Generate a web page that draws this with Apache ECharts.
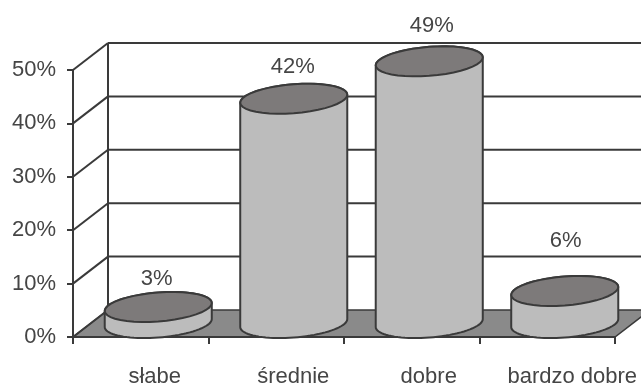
<!DOCTYPE html>
<html>
<head>
<meta charset="utf-8">
<style>html,body{margin:0;padding:0;background:#fff}#c{width:641px;height:385px}</style>
<script src="https://cdn.jsdelivr.net/npm/echarts@6/dist/echarts.min.js"></script>
</head>
<body>
<div id="c"></div>
<script>
// Ocena: odsetek odpowiedzi w każdej kategorii
const categories = ['słabe', 'średnie', 'dobre', 'bardzo dobre'];
const shares = [3, 42, 49, 6];
const axisLevels = [0, 10, 20, 30, 40, 50];

const INK = '#3a3a3a';
const TEXT = '#454545';
const FONT = '"Liberation Sans", Arial, sans-serif';
const FONT_SIZE = 22;
const DEPTH_X = 35, DEPTH_Y = 27;      // how far the back wall sits from the front plane
const TILT = 4, MINOR = 14.5;          // skew and half-height of the cylinder ellipses
const LABEL_LIFT = [29, 33, 36, 51];   // gap between each cylinder top and its caption
const LABEL_SHIFT = [-1.5, -1, 2.5, 1];

// Points of an ellipse arc around (cx, cy), from angle a to angle b
function arc(cx, cy, major, a, b) {
  const pts = [];
  for (let k = 0; k <= 40; k++) {
    const t = a + (b - a) * k / 40;
    pts.push([cx + major * Math.cos(t), cy - TILT * Math.cos(t) + MINOR * Math.sin(t)]);
  }
  return pts;
}

function renderLevel(params, api) {
  const sys = params.coordSys;
  const y = api.coord([0, api.value(1)])[1];
  const left = sys.x, right = sys.x + sys.width;
  const children = [];
  if (api.value(1) === 0) {
    children.push({
      type: 'polygon',
      shape: { points: [[left, y], [right, y], [right + DEPTH_X, y - DEPTH_Y], [left + DEPTH_X, y - DEPTH_Y]] },
      style: { fill: '#8a8a8a', stroke: INK, lineWidth: 1.5 }
    });
  } else {
    children.push({
      type: 'line',
      shape: { x1: left + DEPTH_X, y1: y - DEPTH_Y, x2: right + DEPTH_X, y2: y - DEPTH_Y },
      style: { stroke: INK, lineWidth: 2 }
    });
  }
  children.push({
    type: 'line',
    shape: { x1: left, y1: y, x2: left + DEPTH_X, y2: y - DEPTH_Y },
    style: { stroke: INK, lineWidth: 2 }
  });
  if (params.dataIndex === 0) {
    children.push({
      type: 'line',
      shape: { x1: left + DEPTH_X, y1: sys.y - DEPTH_Y, x2: left + DEPTH_X, y2: y - DEPTH_Y },
      style: { stroke: INK, lineWidth: 2 }
    });
  }
  return { type: 'group', children };
}

function renderCylinder(params, api) {
  const top = api.coord([api.value(0), api.value(1)]);
  const base = api.coord([api.value(0), 0]);
  const major = api.size([1, 0])[0] * 0.395;
  const cx = top[0] + DEPTH_X / 2;
  const topY = top[1] - DEPTH_Y / 2 - 0.5;
  const baseY = base[1] - DEPTH_Y / 2 - 0.5;
  const bodyPts = arc(cx, baseY, major, 0, Math.PI).concat(arc(cx, topY, major, Math.PI, 2 * Math.PI));
  return {
    type: 'group',
    children: [
      { type: 'polygon', shape: { points: bodyPts }, style: { fill: '#bcbcbc', stroke: INK, lineWidth: 2 } },
      { type: 'polygon', shape: { points: arc(cx, topY, major, 0, 2 * Math.PI) }, style: { fill: '#7d7a7a', stroke: INK, lineWidth: 2 } },
      {
        type: 'text',
        style: {
          x: cx + LABEL_SHIFT[params.dataIndex],
          y: topY - LABEL_LIFT[params.dataIndex] + 1,
          text: api.value(1) + '%',
          fill: TEXT, font: FONT_SIZE + 'px ' + FONT, align: 'center', verticalAlign: 'middle'
        }
      }
    ]
  };
}

const chart = echarts.init(document.getElementById('c'), null, { renderer: 'canvas' });
chart.setOption({
  animation: false,
  backgroundColor: '#ffffff',
  grid: { left: 73, right: 26, top: 70, bottom: 48, outerBoundsMode: 'none' },
  xAxis: {
    type: 'category',
    data: categories,
    boundaryGap: true,
    axisLine: { lineStyle: { color: INK, width: 2 } },
    axisTick: { show: true, alignWithLabel: false, interval: 0, length: 7, lineStyle: { color: INK, width: 2 } },
    axisLabel: {
      color: TEXT, fontFamily: FONT, fontSize: FONT_SIZE, margin: 29,
      padding: [0, 0, 0, 34],
      hideOverlap: false,
      interval: 0,
      formatter: (v, i) => {
        if (i === 0) return '{first|' + v + '}';
        if (i === categories.length - 1) return '{last|' + v + '}';
        return v;
      },
      rich: {
        first: { color: TEXT, fontFamily: FONT, fontSize: FONT_SIZE, padding: [0, 6, 0, 0] },
        last: { color: TEXT, fontFamily: FONT, fontSize: FONT_SIZE, padding: [0, 0, 0, 16] }
      }
    }
  },
  yAxis: {
    type: 'value', min: 0, max: 50, interval: 10,
    axisLine: { show: true, lineStyle: { color: INK, width: 2 } },
    axisTick: { show: true, length: 6, lineStyle: { color: INK, width: 2 } },
    splitLine: { show: false },
    axisLabel: {
      color: TEXT, fontFamily: FONT, fontSize: FONT_SIZE, margin: 17,
      padding: [4, 0, 0, 0], formatter: '{value}%'
    }
  },
  series: [
    {
      type: 'custom', z: -1, clip: false, silent: true,
      renderItem: renderLevel,
      data: axisLevels.map(v => [0, v]),
      encode: { x: 0, y: 1 }
    },
    {
      type: 'custom', z: 2, clip: false,
      renderItem: renderCylinder,
      data: shares.map((v, i) => [i, v]),
      encode: { x: 0, y: 1 }
    }
  ]
});
</script>
</body>
</html>
